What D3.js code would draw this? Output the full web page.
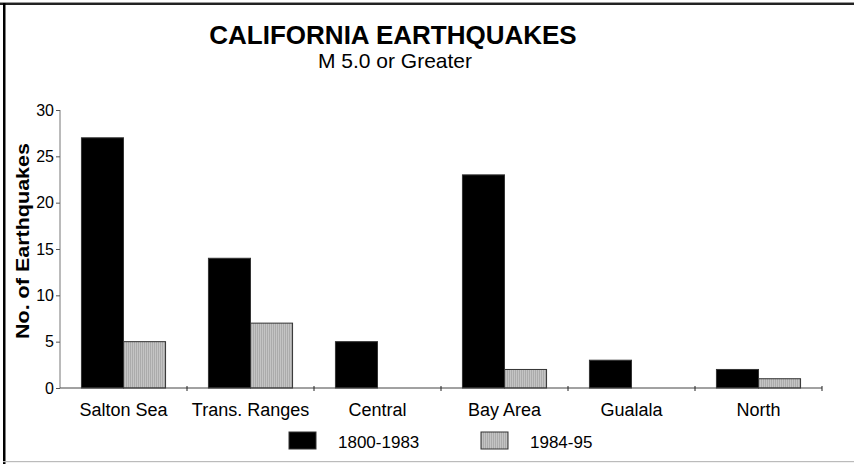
<!DOCTYPE html>
<html>
<head>
<meta charset="utf-8">
<script src="https://cdn.jsdelivr.net/npm/d3@7"></script>
<style>
  html, body { margin: 0; padding: 0; background: #fff; }
  svg { display: block; font-family: Arial, "Liberation Sans", Helvetica, sans-serif; }
</style>
</head>
<body>
<svg id="chart" width="854" height="464"></svg>
<script>
const categories = ["Salton Sea", "Trans. Ranges", "Central", "Bay Area", "Gualala", "North"];
const seriesNames = ["1800-1983", "1984-95"];
const values1800 = [27, 14, 5, 23, 3, 2];
const values1984 = [5, 7, 0, 2, 0, 1];
const yTicks = [0, 5, 10, 15, 20, 25, 30];
const titleText = "CALIFORNIA EARTHQUAKES";
const subtitleText = "M 5.0 or Greater";
const yLabel = "No. of Earthquakes";

const svg = d3.select("#chart");
const W = 854, H = 464;
const plot = { left: 60, right: 822, top: 110, bottom: 388 };
const FONT = "Arial, 'Liberation Sans', Helvetica, sans-serif";

// pattern for gray bars
const defs = svg.append("defs");
const pat = defs.append("pattern").attr("id", "stripes").attr("patternUnits", "userSpaceOnUse")
  .attr("width", 2).attr("height", 2);
pat.append("rect").attr("width", 2).attr("height", 2).attr("fill", "#c4c4c4");
pat.append("rect").attr("width", 1).attr("height", 2).attr("fill", "#ababab");

// frame
svg.append("rect").attr("x", 0).attr("y", 2).attr("width", W).attr("height", 1).attr("fill", "#999");
svg.append("rect").attr("x", 0).attr("y", 3).attr("width", W).attr("height", 2).attr("fill", "#222");
svg.append("rect").attr("x", 3).attr("y", 3).attr("width", 2.5).attr("height", H - 3).attr("fill", "#000");
svg.append("rect").attr("x", 3).attr("y", 461).attr("width", W - 3).attr("height", 1.2).attr("fill", "#bbb");

const x = d3.scaleBand().domain(categories).range([plot.left, plot.right]).paddingInner(0).paddingOuter(0);
const xs = d3.scaleBand().domain(seriesNames).range([0, x.bandwidth()]).paddingInner(0).paddingOuter(0.51);
const y = d3.scaleLinear().domain([0, 30]).range([plot.bottom, plot.top]);

const data = categories.map((c, i) => ({ cat: c, vals: [values1800[i], values1984[i]] }));

const groups = svg.append("g").selectAll("g").data(data).join("g")
  .attr("transform", d => `translate(${x(d.cat)},0)`);
groups.selectAll("rect").data(d => d.vals.map((v, j) => ({ v, s: seriesNames[j], j })))
  .join("rect")
  .attr("x", d => xs(d.s))
  .attr("width", xs.bandwidth())
  .attr("y", d => y(d.v))
  .attr("height", d => y(0) - y(d.v))
  .attr("fill", d => d.j === 0 ? "#000" : "url(#stripes)")
  .attr("stroke", "#333")
  .attr("stroke-width", 1);

// y axis
const yAxis = svg.append("g").attr("transform", `translate(${plot.left},0)`)
  .call(d3.axisLeft(y).tickValues(yTicks).tickSize(4).tickPadding(2));
yAxis.attr("font-size", null).attr("font-family", null);
yAxis.select(".domain").attr("stroke", "#777").attr("d", `M0,${plot.top}V${plot.bottom}`);
yAxis.selectAll(".tick line").attr("stroke", "#555");
yAxis.selectAll(".tick text").style("font-size", "16px").attr("fill", "#000")
  .style("font-family", FONT);

// x axis
const xAxis = svg.append("g").attr("transform", `translate(0,${plot.bottom})`)
  .call(d3.axisBottom(x).tickSize(0));
xAxis.attr("font-size", null).attr("font-family", null);
xAxis.select(".domain").attr("stroke", "#444").attr("d", `M${plot.left},0H${plot.right}`);
xAxis.selectAll(".tick text").style("font-size", "18px").attr("fill", "#000")
  .style("font-family", FONT).attr("y", 28).attr("dy", 0);
// group separators
const sepPos = categories.slice(1).map(c => x(c)).concat([x(categories[categories.length - 1]) + x.bandwidth()]);
svg.append("g").selectAll("line").data(sepPos).join("line")
  .attr("x1", d => d).attr("x2", d => d)
  .attr("y1", plot.bottom - 2).attr("y2", plot.bottom + 3)
  .attr("stroke", "#222").attr("stroke-width", 1);

// titles
svg.append("text").attr("x", 393).attr("y", 44).attr("text-anchor", "middle")
  .style("font-size", "26px").attr("font-weight", "bold").text(titleText);
svg.append("text").attr("x", 395).attr("y", 68).attr("text-anchor", "middle")
  .style("font-size", "21px").text(subtitleText);

// y label
svg.append("text").attr("transform", `translate(29,241) rotate(-90)`).attr("text-anchor", "middle")
  .style("font-size", "19px").attr("font-weight", "bold")
  .attr("textLength", 196).attr("lengthAdjust", "spacingAndGlyphs").text(yLabel);

// legend
const legendX = [289, 481];
const legend = svg.append("g").selectAll("g").data(seriesNames).join("g")
  .attr("transform", (d, i) => `translate(${legendX[i]},432)`);
legend.append("rect").attr("width", 27).attr("height", 17)
  .attr("fill", (d, i) => i === 0 ? "#000" : "url(#stripes)").attr("stroke", "#333");
legend.append("text").attr("x", 49).attr("y", 16).style("font-size", "17px").text(d => d);
</script>
</body>
</html>
